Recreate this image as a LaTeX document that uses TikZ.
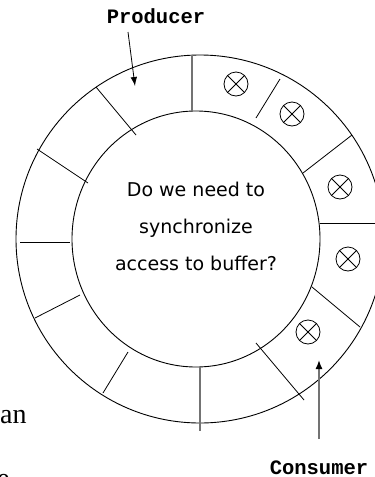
\documentclass[tikz,border=0pt]{standalone}
\usepackage{fontspec}
\setmainfont{Liberation Serif}
\newfontfamily\tagfont{Liberation Mono}
\newfontfamily\askfont{DejaVu Sans}
\usetikzlibrary{arrows.meta}

\begin{document}
\begin{tikzpicture}[x=1pt,y=-1pt,
  ring/.style={line width=0.9pt},
  spoke/.style={line width=0.8pt},
  greyspoke/.style={line width=1.4pt, draw=black!55},
  tag/.style={font=\tagfont\bfseries\fontsize{20.5}{24}\selectfont, inner sep=0pt, anchor=base},
  pointer/.style={line width=0.8pt, -{Latex[length=9pt,width=6.5pt]}},
  greypointer/.style={line width=1.4pt, draw=black!55, -{Latex[length=9pt,width=7pt,fill=black,color=black]}},
  crossmark/.pic={
    \draw[line width=0.8pt] (0,0) circle[radius=12];
    \draw[line width=0.8pt] (-8.5,-8.5) -- (8.5,8.5) (-8.5,8.5) -- (8.5,-8.5);
  }]
\useasboundingbox (0,0) rectangle (375,477);

% circular buffer: outer and inner rims
\draw[ring] (200,239) ellipse[x radius=184, y radius=184];
\draw[ring] (196,239) ellipse[x radius=124, y radius=128];

% slot boundaries
\draw[greyspoke] (192,55) -- (192,111);
\draw[spoke] (96,87) -- (136,135);
\draw[spoke] (37,149) -- (88,183);
\draw[spoke] (20,242) -- (70,242);
\draw[spoke] (80,295) -- (35,318);
\draw[spoke] (128,352) -- (103,393);
\draw[greyspoke] (200,367) -- (200,431);
\draw[spoke] (256,343) -- (304,400);
\draw[spoke] (312,287) -- (360,327);
\draw[spoke] (320,223) -- (378,223);
\draw[spoke] (303,173) -- (352,135);
\draw[spoke] (256,118) -- (280,79);

% filled slots
\pic at (236,84) {crossmark};
\pic at (292,114) {crossmark};
\pic at (340,187) {crossmark};
\pic at (348,259) {crossmark};
\pic at (308,332) {crossmark};

% question in the middle
\node[font=\askfont\fontsize{19}{37}\selectfont, align=center, inner sep=0pt] (question) at (196,226)
  {Do we need to\\synchronize\\access to buffer?};

% producer and consumer pointers
\node[tag] (producer) at (156,23) {Producer};
\coordinate (prodTail) at (128,32);
\coordinate (prodTip) at (135,86);
\draw[pointer] (prodTail) -- (prodTip);

\node[tag] (consumer) at (319,474) {Consumer};
\coordinate (consTail) at (319,439);
\coordinate (consTip) at (319,360);
\draw[greypointer] (consTail) -- (consTip);

% surrounding page text
\node[font=\fontsize{28}{32}\selectfont, inner sep=0pt, anchor=base west] (pageAn) at (0,423) {an};
\node[font=\fontsize{28}{32}\selectfont, inner sep=0pt, anchor=base west] (pageE) at (-3,487) {e};
\end{tikzpicture}
\end{document}
